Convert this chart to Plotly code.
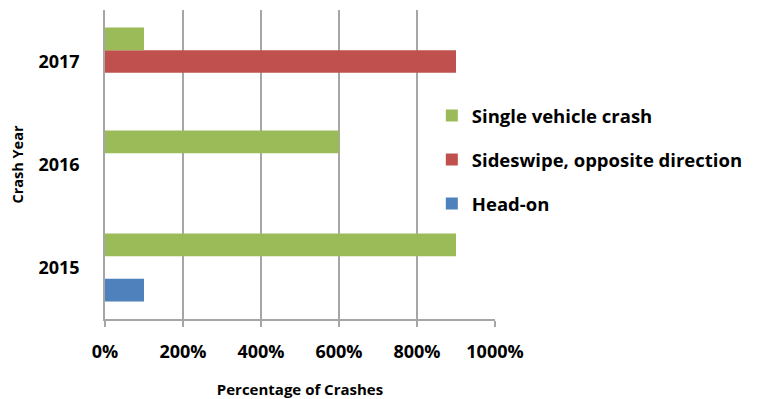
import plotly.graph_objects as go

years = ["2015", "2016", "2017"]
head_on = [100, None, None]
sideswipe = [None, None, 900]
single_vehicle = [900, 600, 100]

series = [
    ("Head-on", head_on, "#4F81BD", 3),
    ("Sideswipe, opposite direction", sideswipe, "#C0504D", 2),
    ("Single vehicle crash", single_vehicle, "#9BBB59", 1),
]

FONT = "Open Sans"

fig = go.Figure()
for name, vals, color, rank in series:
    fig.add_trace(go.Bar(x=vals, y=years, orientation="h", name=name,
                         legendgroup=name, legendrank=rank,
                         marker=dict(color=color, line=dict(width=0))))

# page body adds an 8px margin, so the figure is sized to fit the window
fig.update_layout(
    width=749, height=391,
    margin=dict(l=97, r=262, t=2, b=80, autoexpand=False),
    paper_bgcolor="white", plot_bgcolor="white",
    barmode="group", bargap=0.34, bargroupgap=0,
    font=dict(family=FONT, color="black", size=17, weight="bold"),
    legend=dict(x=0.838, xanchor="left", y=0.515, yanchor="middle",
                traceorder="grouped", tracegroupgap=17,
                bgcolor="white", font=dict(size=18.5, weight="bold"),
                itemwidth=30),
)
fig.update_xaxes(
    range=[0, 1000], dtick=200, ticksuffix="%",
    showgrid=True, gridcolor="#A6A6A6", gridwidth=1.5,
    showline=True, linecolor="#A6A6A6", linewidth=1.5,
    ticks="outside", ticklen=6, tickcolor="#A6A6A6", tickwidth=1.5,
    ticklabelstandoff=10, zeroline=False,
    tickfont=dict(size=18),
    title=dict(text="Percentage of Crashes", font=dict(size=15, weight="bold"), standoff=24),
    automargin=False,
)
fig.update_yaxes(
    type="category", showgrid=False, zeroline=False,
    showline=True, linecolor="#A6A6A6", linewidth=1.5,
    ticks="", ticklabelstandoff=20,
    tickfont=dict(size=18),
    title=dict(text="Crash Year", font=dict(size=14.5, weight="bold"), standoff=12),
    automargin=False,
)

fig.write_html("out.html")
